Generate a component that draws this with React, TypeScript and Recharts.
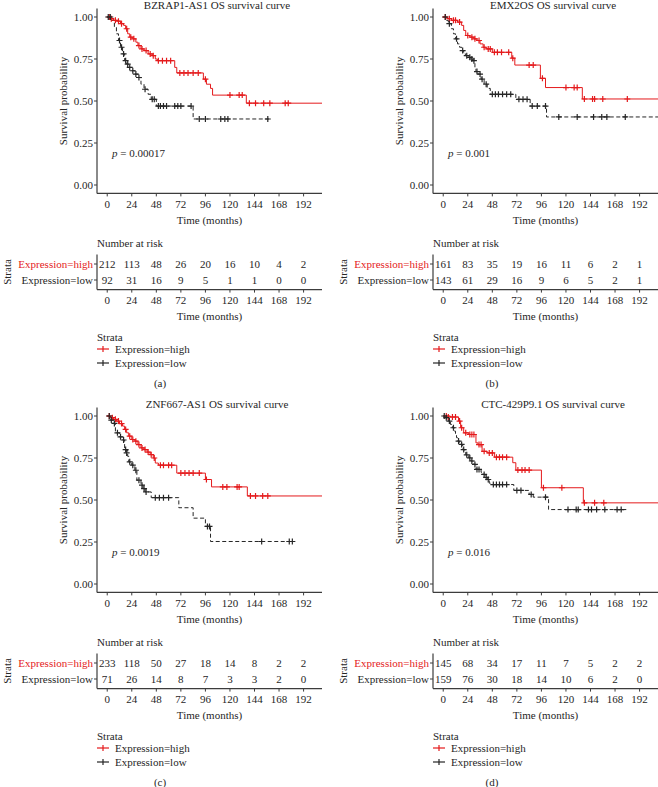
import React from 'react';
import { ComposedChart, ScatterChart, Line, Scatter, XAxis, YAxis } from 'recharts';

type Pt = [number, number];

const SERIF = '"Liberation Serif", "DejaVu Serif", serif';
const RED = '#e41a1c';
const INK = '#262626';
const AXIS = '#3c3c3c';

const timeTicks = [0, 24, 48, 72, 96, 120, 144, 168, 192];
const survTicks = [0, 0.25, 0.5, 0.75, 1];
const strata = ['Expression=high', 'Expression=low'];

// (a) BZRAP1-AS1 — [months, survival]
const bzrapHigh: Pt[] = [[0, 1], [3, 0.99], [6, 0.98], [10, 0.975], [13, 0.96], [16, 0.95], [18, 0.93], [20, 0.9], [22, 0.88], [25, 0.87], [28, 0.85], [30, 0.83], [33, 0.81], [36, 0.8], [40, 0.78], [44, 0.77], [47, 0.75], [49, 0.74], [66, 0.7], [68, 0.667], [94, 0.63], [97, 0.6], [101, 0.575], [103, 0.535], [136, 0.487], [210, 0.487]];
const bzrapHighCens: Pt[] = [[2, 1], [4, 0.99], [8, 0.98], [11, 0.975], [14, 0.96], [19, 0.93], [23, 0.88], [26, 0.87], [31, 0.83], [34, 0.81], [38, 0.8], [42, 0.78], [45, 0.77], [50, 0.74], [54, 0.74], [58, 0.74], [62, 0.74], [71, 0.667], [75, 0.667], [79, 0.667], [84, 0.667], [89, 0.667], [96, 0.63], [120, 0.535], [129, 0.535], [132, 0.535], [139, 0.487], [145, 0.487], [153, 0.487], [159, 0.487], [174, 0.487], [177, 0.487]];
const bzrapLow: Pt[] = [[0, 1], [4, 0.98], [7, 0.94], [9, 0.9], [11, 0.86], [13, 0.82], [15, 0.78], [17, 0.74], [19, 0.72], [21, 0.7], [24, 0.68], [27, 0.66], [30, 0.64], [33, 0.6], [36, 0.57], [40, 0.54], [43, 0.51], [48, 0.47], [84, 0.393], [158, 0.393]];
const bzrapLowCens: Pt[] = [[1, 1], [3, 1], [12, 0.86], [14, 0.82], [16, 0.78], [18, 0.74], [20, 0.72], [22, 0.7], [25, 0.68], [28, 0.66], [31, 0.64], [37, 0.57], [44, 0.51], [46, 0.51], [50, 0.47], [52, 0.47], [55, 0.47], [58, 0.47], [66, 0.47], [69, 0.47], [72, 0.47], [82, 0.47], [90, 0.393], [96, 0.393], [111, 0.393], [115, 0.393], [118, 0.393], [157, 0.393]];
const bzrapRiskHigh = [212, 113, 48, 26, 20, 16, 10, 4, 2];
const bzrapRiskLow = [92, 31, 16, 9, 5, 1, 1, 0, 0];

// (b) EMX2OS
const emxHigh: Pt[] = [[0, 1], [4, 0.99], [8, 0.98], [14, 0.97], [18, 0.95], [20, 0.92], [22, 0.89], [26, 0.88], [30, 0.87], [33, 0.86], [36, 0.84], [39, 0.82], [42, 0.81], [48, 0.79], [67, 0.755], [70, 0.714], [95, 0.635], [100, 0.58], [136, 0.512], [210, 0.512]];
const emxHighCens: Pt[] = [[2, 1], [6, 0.99], [10, 0.98], [12, 0.98], [16, 0.97], [24, 0.89], [28, 0.88], [31, 0.87], [35, 0.86], [40, 0.82], [44, 0.81], [46, 0.81], [50, 0.79], [53, 0.79], [57, 0.79], [64, 0.79], [68, 0.755], [84, 0.714], [88, 0.714], [97, 0.635], [120, 0.58], [128, 0.58], [131, 0.58], [138, 0.512], [146, 0.512], [148, 0.512], [156, 0.512], [180, 0.512]];
const emxLow: Pt[] = [[0, 1], [3, 0.98], [5, 0.96], [8, 0.93], [10, 0.9], [12, 0.87], [14, 0.84], [16, 0.82], [18, 0.8], [20, 0.78], [22, 0.77], [25, 0.76], [27, 0.75], [29, 0.74], [31, 0.7], [32, 0.675], [34, 0.66], [37, 0.63], [40, 0.6], [43, 0.575], [46, 0.54], [71, 0.51], [85, 0.47], [101, 0.405], [210, 0.405]];
const emxLowCens: Pt[] = [[2, 1], [6, 0.96], [13, 0.87], [19, 0.8], [23, 0.77], [26, 0.76], [28, 0.75], [30, 0.74], [33, 0.675], [36, 0.66], [38, 0.63], [42, 0.6], [48, 0.54], [51, 0.54], [54, 0.54], [58, 0.54], [62, 0.54], [66, 0.54], [74, 0.51], [78, 0.51], [82, 0.51], [87, 0.47], [92, 0.47], [100, 0.47], [113, 0.405], [131, 0.405], [147, 0.405], [155, 0.405], [160, 0.405], [178, 0.405]];
const emxRiskHigh = [161, 83, 35, 19, 16, 11, 6, 2, 1];
const emxRiskLow = [143, 61, 29, 16, 9, 6, 5, 2, 1];

// (c) ZNF667-AS1
const znfHigh: Pt[] = [[0, 1], [3, 0.99], [6, 0.98], [9, 0.97], [12, 0.955], [15, 0.94], [17, 0.92], [19, 0.9], [21, 0.88], [24, 0.86], [27, 0.85], [30, 0.83], [33, 0.81], [36, 0.8], [39, 0.785], [42, 0.77], [45, 0.75], [47, 0.72], [50, 0.707], [68, 0.66], [96, 0.622], [102, 0.578], [137, 0.524], [210, 0.524]];
const znfHighCens: Pt[] = [[2, 1], [5, 0.99], [8, 0.98], [11, 0.97], [14, 0.955], [18, 0.92], [22, 0.88], [25, 0.86], [28, 0.85], [31, 0.83], [34, 0.81], [37, 0.8], [40, 0.785], [43, 0.77], [46, 0.75], [52, 0.707], [55, 0.707], [60, 0.707], [63, 0.707], [72, 0.66], [76, 0.66], [80, 0.66], [84, 0.66], [90, 0.66], [97, 0.622], [113, 0.578], [117, 0.578], [127, 0.578], [129, 0.578], [140, 0.524], [145, 0.524], [152, 0.524], [157, 0.524]];
const znfLow: Pt[] = [[0, 1], [3, 0.976], [6, 0.956], [8, 0.9], [12, 0.876], [15, 0.857], [17, 0.8], [20, 0.76], [21, 0.727], [24, 0.707], [27, 0.677], [29, 0.618], [33, 0.588], [35, 0.568], [37, 0.548], [43, 0.514], [70, 0.454], [84, 0.392], [96, 0.343], [101, 0.253], [181, 0.253]];
const znfLowCens: Pt[] = [[2, 1], [4, 0.976], [7, 0.956], [10, 0.9], [13, 0.876], [16, 0.857], [18, 0.8], [19, 0.78], [22, 0.727], [25, 0.707], [28, 0.677], [31, 0.618], [34, 0.588], [36, 0.568], [38, 0.548], [47, 0.514], [51, 0.514], [55, 0.514], [60, 0.514], [98, 0.343], [100, 0.343], [151, 0.253], [178, 0.253], [181, 0.253]];
const znfRiskHigh = [233, 118, 50, 27, 18, 14, 8, 2, 2];
const znfRiskLow = [71, 26, 14, 8, 7, 3, 3, 2, 0];

// (d) CTC-429P9.1
const ctcHigh: Pt[] = [[0, 1], [7, 0.994], [15, 0.97], [17, 0.93], [20, 0.9], [25, 0.89], [32, 0.84], [34, 0.83], [38, 0.79], [43, 0.78], [50, 0.755], [68, 0.722], [71, 0.678], [96, 0.573], [137, 0.483], [210, 0.483]];
const ctcHighCens: Pt[] = [[3, 1], [5, 0.994], [9, 0.994], [12, 0.994], [16, 0.97], [18, 0.93], [22, 0.9], [26, 0.89], [28, 0.89], [30, 0.89], [35, 0.83], [37, 0.83], [40, 0.79], [45, 0.78], [48, 0.78], [52, 0.755], [55, 0.755], [58, 0.755], [62, 0.755], [73, 0.678], [77, 0.678], [80, 0.678], [84, 0.678], [98, 0.573], [116, 0.573], [138, 0.483], [148, 0.483], [157, 0.483]];
const ctcLow: Pt[] = [[0, 1], [2, 0.99], [5, 0.97], [7, 0.95], [9, 0.93], [11, 0.91], [12, 0.89], [13, 0.871], [14, 0.851], [16, 0.84], [17, 0.831], [19, 0.8], [21, 0.785], [22, 0.769], [25, 0.751], [27, 0.732], [30, 0.712], [32, 0.682], [37, 0.665], [39, 0.652], [41, 0.635], [43, 0.622], [45, 0.6], [47, 0.592], [69, 0.557], [84, 0.533], [88, 0.517], [103, 0.443], [179, 0.443]];
const ctcLowCens: Pt[] = [[1, 1], [3, 0.99], [6, 0.97], [10, 0.93], [15, 0.851], [18, 0.831], [20, 0.8], [23, 0.769], [26, 0.751], [28, 0.732], [31, 0.712], [33, 0.682], [35, 0.682], [40, 0.652], [42, 0.635], [44, 0.622], [49, 0.592], [52, 0.592], [55, 0.592], [58, 0.592], [62, 0.592], [72, 0.557], [76, 0.557], [86, 0.533], [100, 0.517], [122, 0.443], [130, 0.443], [132, 0.443], [142, 0.443], [145, 0.443], [150, 0.443], [158, 0.443], [170, 0.443], [174, 0.443]];
const ctcRiskHigh = [145, 68, 34, 17, 11, 7, 5, 2, 2];
const ctcRiskLow = [159, 76, 30, 18, 14, 10, 6, 2, 0];

const toRows = (pts: Pt[]) => pts.map(([t, s]) => ({ t, s }));

const Cross = ({ cx, cy, fill }: any) =>
  cx == null ? null : (
    <g stroke={fill} strokeWidth={1.2}>
      <line x1={cx - 3} x2={cx + 3} y1={cy} y2={cy} />
      <line x1={cx} x2={cx} y1={cy - 3} y2={cy + 3} />
    </g>
  );

const RiskCount = ({ cx, cy, payload }: any) => (
  <text x={cx} y={cy} textAnchor="middle" dominantBaseline="central" fontSize={11} fill={INK}>
    {payload.n}
  </text>
);

const StrataTick = ({ x, y, payload }: any) => {
  const high = payload.value === 2;
  return (
    <text x={x} y={y} textAnchor="end" dominantBaseline="central" fontSize={11} fill={high ? RED : INK}>
      {high ? strata[0] : strata[1]}
    </text>
  );
};

const XTitle = ({ viewBox }: any) => (
  <text x={viewBox.x + viewBox.width / 2} y={viewBox.y + 26.5} textAnchor="middle" dominantBaseline="central" fontSize={11} fill={INK}>
    Time (months)
  </text>
);

const yTitle = (text: string, x: number) => ({ viewBox }: any) => {
  const cy = viewBox.y + viewBox.height / 2;
  return (
    <text x={x} y={cy} transform={`rotate(-90 ${x} ${cy})`} textAnchor="middle" dominantBaseline="central" fontSize={11} fill={INK}>
      {text}
    </text>
  );
};

const tickStyle = { fill: INK, fontSize: 11, fontFamily: SERIF };
const axisLine = { stroke: AXIS, strokeWidth: 1.2 };

const LegendMark = ({ color }: { color: string }) => (
  <g stroke={color} strokeWidth={1.2}>
    <line x1={-6} x2={6} y1={0} y2={0} />
    <line x1={0} x2={0} y1={-3} y2={3} />
  </g>
);

function Panel(props: any) {
  const { left, top, title, p, letter, letterX, high, low, highCens, lowCens, riskHigh, riskLow } = props;
  const riskData = timeTicks.flatMap((t, i) => [
    { t, row: 2, n: riskHigh[i] },
    { t, row: 1, n: riskLow[i] },
  ]);

  return (
    <div style={{ position: 'absolute', left, top, width: 322, height: 388 }}>
      <div style={{ position: 'absolute', left: 0, top: 0 }}>
        <ComposedChart width={322} height={230} margin={{ top: 8.6, right: 0, bottom: 0, left: 0 }}>
          <XAxis
            type="number"
            dataKey="t"
            domain={[-10, 210]}
            ticks={timeTicks}
            interval={0}
            allowDataOverflow
            height={36.6}
            tick={tickStyle}
            tickSize={3}
            tickMargin={3.5}
            axisLine={axisLine}
            tickLine={{ stroke: AXIS }}
            label={<XTitle />}
          />
          <YAxis
            type="number"
            dataKey="s"
            domain={[-0.05, 1.05]}
            ticks={survTicks}
            interval={0}
            allowDataOverflow
            width={97}
            tick={tickStyle}
            tickSize={3}
            tickMargin={1}
            tickFormatter={(v: number) => v.toFixed(2)}
            axisLine={axisLine}
            tickLine={{ stroke: AXIS }}
            label={{ content: yTitle('Survival probability', 63) }}
          />
          <Line data={toRows(high)} dataKey="s" type="stepAfter" stroke={RED} strokeWidth={1} dot={false} isAnimationActive={false} />
          <Line data={toRows(low)} dataKey="s" type="stepAfter" stroke={INK} strokeWidth={1} strokeDasharray="4 2.5" dot={false} isAnimationActive={false} />
          <Scatter data={toRows(highCens)} fill={RED} shape={<Cross />} isAnimationActive={false} />
          <Scatter data={toRows(lowCens)} fill={INK} shape={<Cross />} isAnimationActive={false} />
        </ComposedChart>
      </div>

      <div style={{ position: 'absolute', left: 0, top: 230 }}>
        <ScatterChart width={322} height={100} margin={{ top: 24.4, right: 0, bottom: 0, left: 0 }}>
          <XAxis
            type="number"
            dataKey="t"
            domain={[-10, 210]}
            ticks={timeTicks}
            interval={0}
            allowDataOverflow
            height={40.4}
            tick={tickStyle}
            tickSize={3}
            tickMargin={3.5}
            axisLine={axisLine}
            tickLine={{ stroke: AXIS }}
            label={<XTitle />}
          />
          <YAxis
            type="number"
            dataKey="row"
            domain={[0.4, 2.6]}
            ticks={[1, 2]}
            interval={0}
            width={97}
            tick={<StrataTick />}
            tickSize={3}
            tickMargin={1}
            axisLine={axisLine}
            tickLine={{ stroke: AXIS }}
            label={{ content: yTitle('Strata', 7) }}
          />
          <Scatter data={riskData} shape={<RiskCount />} isAnimationActive={false} />
        </ScatterChart>
      </div>

      <svg width={322} height={388} style={{ position: 'absolute', left: 0, top: 0, pointerEvents: 'none', overflow: 'visible' }} fontFamily={SERIF} fontSize={11} fill={INK}>
        <text x={217} y={8.5} textAnchor="middle">{title}</text>
        <text x={112} y={157}>
          <tspan fontStyle="italic">p</tspan> = {p}
        </text>
        <text x={97} y={246.5}>Number at risk</text>
        <text x={97} y={340.5}>Strata</text>
        <g transform="translate(103 349)"><LegendMark color={RED} /></g>
        <text x={115} y={352.5}>{strata[0]}</text>
        <g transform="translate(103 363)"><LegendMark color={INK} /></g>
        <text x={115} y={366.5}>{strata[1]}</text>
        <text x={letterX} y={386.5} textAnchor="middle">({letter})</text>
      </svg>
    </div>
  );
}

export default function App() {
  return (
    <div style={{ position: 'absolute', left: 0, top: 0, width: 658, height: 787, background: '#fff', fontFamily: SERIF, overflow: 'hidden' }}>
      <Panel left={0} top={0} title="BZRAP1-AS1 OS survival curve" p="0.00017" letter="a" letterX={160}
        high={bzrapHigh} low={bzrapLow} highCens={bzrapHighCens} lowCens={bzrapLowCens} riskHigh={bzrapRiskHigh} riskLow={bzrapRiskLow} />
      <Panel left={336} top={0} title="EMX2OS OS survival curve" p="0.001" letter="b" letterX={156}
        high={emxHigh} low={emxLow} highCens={emxHighCens} lowCens={emxLowCens} riskHigh={emxRiskHigh} riskLow={emxRiskLow} />
      <Panel left={0} top={399} title="ZNF667-AS1 OS survival curve" p="0.0019" letter="c" letterX={160}
        high={znfHigh} low={znfLow} highCens={znfHighCens} lowCens={znfLowCens} riskHigh={znfRiskHigh} riskLow={znfRiskLow} />
      <Panel left={336} top={399} title="CTC-429P9.1 OS survival curve" p="0.016" letter="d" letterX={156}
        high={ctcHigh} low={ctcLow} highCens={ctcHighCens} lowCens={ctcLowCens} riskHigh={ctcRiskHigh} riskLow={ctcRiskLow} />
    </div>
  );
}
